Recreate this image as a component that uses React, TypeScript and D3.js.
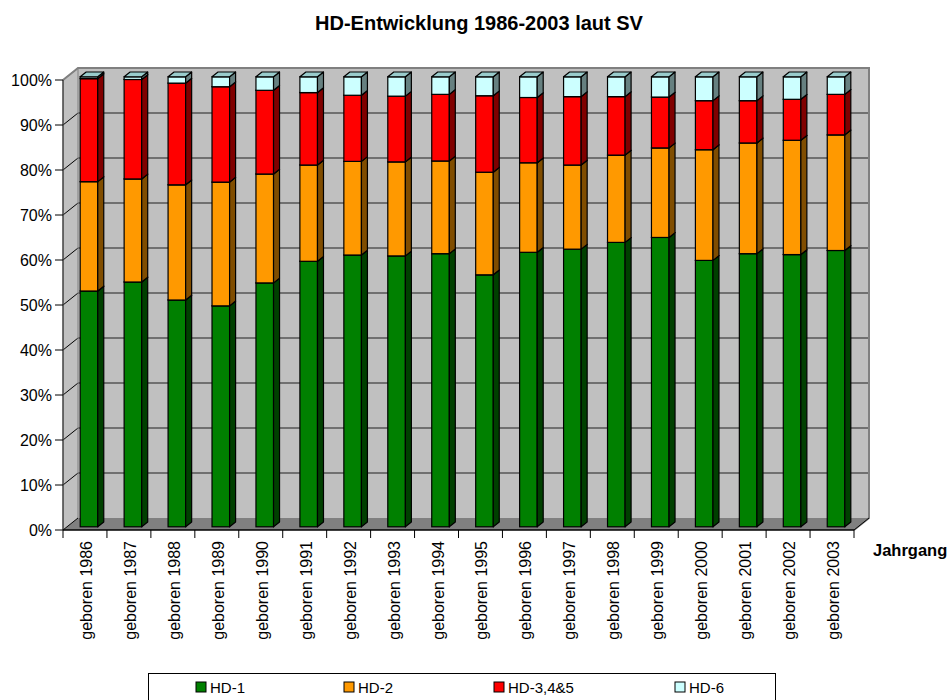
import React, { useEffect, useRef } from "react";
import * as d3 from "d3";

const years = ["1986", "1987", "1988", "1989", "1990", "1991", "1992", "1993", "1994", "1995", "1996", "1997", "1998", "1999", "2000", "2001", "2002", "2003"];
const hd1 = [52.4, 54.4, 50.4, 49.1, 54.2, 59.0, 60.4, 60.2, 60.7, 56.0, 61.0, 61.7, 63.2, 64.3, 59.2, 60.7, 60.5, 61.4];
const hd2 = [24.3, 22.9, 25.6, 27.5, 24.2, 21.4, 20.8, 20.9, 20.6, 22.8, 19.9, 18.7, 19.4, 19.9, 24.6, 24.6, 25.4, 25.7];
const hd345 = [22.9, 22.1, 22.6, 21.2, 18.6, 16.1, 14.7, 14.6, 14.8, 17.0, 14.5, 15.2, 13.0, 11.3, 10.9, 9.4, 9.1, 9.0];
const hd6 = [0.4, 0.6, 1.4, 2.2, 3.0, 3.5, 4.1, 4.3, 3.9, 4.2, 4.6, 4.4, 4.4, 4.5, 5.3, 5.3, 5.0, 3.9];
const seriesNames = ["HD-1", "HD-2", "HD-3,4&5", "HD-6"];
const yTicks = [0, 10, 20, 30, 40, 50, 60, 70, 80, 90, 100];

const colors = [
  { front: "#008000", side: "#004000", top: "#006600" },
  { front: "#FF9900", side: "#804D00", top: "#CC7A00" },
  { front: "#FF0000", side: "#800000", top: "#CC0000" },
  { front: "#CCFFFF", side: "#668080", top: "#99CCCC" },
];

export default function App() {
  const svgRef = useRef<SVGSVGElement>(null);

  useEffect(() => {
    const svg = d3.select(svgRef.current);
    svg.selectAll("*").remove();

    const W = 951, H = 700;
    const left = 63, right = 854, top = 80, bottom = 530;
    const depthX = 15, depthY = 12;
    const font = "Arial, 'Liberation Sans', sans-serif";

    const x = d3.scaleBand().domain(years).range([left, right]);
    const y = d3.scaleLinear().domain([0, 100]).range([bottom, top]);

    // title
    svg.append("text")
      .attr("x", 479).attr("y", 30)
      .attr("text-anchor", "middle")
      .style("font-family", font).style("font-size", "20px").style("font-weight", "bold")
      .text("HD-Entwicklung 1986-2003 laut SV");

    // walls
    const poly = (pts: number[][]) => pts.map(p => p.join(",")).join(" ");
    svg.append("polygon")
      .attr("points", poly([[left, y(100)], [left + depthX, y(100) - depthY], [left + depthX, bottom - depthY], [left, bottom]]))
      .attr("fill", "#C0C0C0");
    svg.append("rect")
      .attr("x", left + depthX).attr("y", y(100) - depthY)
      .attr("width", right - left).attr("height", bottom - top)
      .attr("fill", "#C0C0C0");
    svg.append("polygon")
      .attr("points", poly([[left, bottom], [left + depthX, bottom - depthY], [right + depthX, bottom - depthY], [right, bottom]]))
      .attr("fill", "#808080");

    // gridlines
    yTicks.filter(t => t > 0).forEach(t => {
      svg.append("line")
        .attr("x1", left + depthX).attr("x2", right + depthX)
        .attr("y1", y(t) - depthY).attr("y2", y(t) - depthY)
        .attr("stroke", "#202020").attr("stroke-width", 1.2);
      svg.append("line")
        .attr("x1", left).attr("x2", left + depthX)
        .attr("y1", y(t)).attr("y2", y(t) - depthY)
        .attr("stroke", "#000").attr("stroke-width", 1);
    });

    // wall borders
    svg.append("polyline")
      .attr("points", poly([[left, y(100)], [left + depthX, y(100) - depthY], [right + depthX, y(100) - depthY], [right + depthX, bottom - depthY], [right, bottom]]))
      .attr("fill", "none").attr("stroke", "#808080").attr("stroke-width", 2);
    svg.append("line")
      .attr("x1", left + depthX).attr("x2", left + depthX)
      .attr("y1", y(100) - depthY).attr("y2", bottom - depthY)
      .attr("stroke", "#808080").attr("stroke-width", 1);
    svg.append("line")
      .attr("x1", left).attr("x2", left + depthX)
      .attr("y1", bottom).attr("y2", bottom - depthY)
      .attr("stroke", "#000").attr("stroke-width", 1);
    svg.append("line")
      .attr("x1", right).attr("x2", right + depthX)
      .attr("y1", bottom).attr("y2", bottom - depthY)
      .attr("stroke", "#000").attr("stroke-width", 1);

    // y axis
    svg.append("line")
      .attr("x1", left).attr("x2", left).attr("y1", y(100)).attr("y2", bottom)
      .attr("stroke", "#404040").attr("stroke-width", 1.5);
    yTicks.forEach(t => {
      svg.append("line")
        .attr("x1", left - 8).attr("x2", left).attr("y1", y(t)).attr("y2", y(t))
        .attr("stroke", "#000");
      svg.append("text")
        .attr("x", left - 11).attr("y", y(t) + 5.5)
        .attr("text-anchor", "end")
        .style("font-family", font).style("font-size", "16px")
        .text(t + "%");
    });

    // x axis
    svg.append("line")
      .attr("x1", left).attr("x2", right).attr("y1", bottom).attr("y2", bottom)
      .attr("stroke", "#000").attr("stroke-width", 1.5);
    d3.range(years.length + 1).forEach(i => {
      const tx = left + i * x.step();
      svg.append("line")
        .attr("x1", tx).attr("x2", tx).attr("y1", bottom).attr("y2", bottom + 8)
        .attr("stroke", "#000");
    });
    years.forEach(yr => {
      const cx = x(yr)! + x.bandwidth() / 2 + 7;
      svg.append("text")
        .attr("transform", `translate(${cx},${bottom + 11}) rotate(-90)`)
        .attr("text-anchor", "end")
        .style("font-family", font).style("font-size", "16px")
        .text("geboren " + yr);
    });
    svg.append("text")
      .attr("x", 873).attr("y", 556)
      .style("font-family", font).style("font-size", "16.5px").style("font-weight", "bold")
      .text("Jahrgang");

    // bars
    const series = [hd1, hd2, hd345, hd6];
    const barW = x.bandwidth() * 0.4;
    const fx = 4, fy = 3.2; // bar front offset into depth
    const bdx = 6, bdy = 4.8; // bar depth
    years.forEach((yr, i) => {
      const bx = x(yr)! + x.bandwidth() * 0.3 + fx;
      let acc = 0;
      series.forEach((s, k) => {
        const v0 = acc, v1 = acc + s[i];
        acc = v1;
        const y0 = y(v0) - fy, y1 = y(v1) - fy;
        const c = colors[k];
        svg.append("rect")
          .attr("x", bx).attr("y", y1).attr("width", barW).attr("height", y0 - y1)
          .attr("fill", c.front).attr("stroke", "#000").attr("stroke-width", 1.2);
        svg.append("polygon")
          .attr("points", poly([[bx + barW, y1], [bx + barW + bdx, y1 - bdy], [bx + barW + bdx, y0 - bdy], [bx + barW, y0]]))
          .attr("fill", c.side).attr("stroke", "#000").attr("stroke-width", 1.2).attr("stroke-linejoin", "round");
        svg.append("polygon")
          .attr("points", poly([[bx, y1], [bx + bdx, y1 - bdy], [bx + barW + bdx, y1 - bdy], [bx + barW, y1]]))
          .attr("fill", c.top).attr("stroke", "#000").attr("stroke-width", 1.2).attr("stroke-linejoin", "round");
      });
    });

    // legend
    svg.append("rect")
      .attr("x", 148.5).attr("y", 673.5).attr("width", 627).attr("height", 40)
      .attr("fill", "#fff").attr("stroke", "#000");
    const legendX = [196, 344, 494, 675];
    seriesNames.forEach((name, k) => {
      svg.append("rect")
        .attr("x", legendX[k]).attr("y", 682).attr("width", 10).attr("height", 10)
        .attr("fill", colors[k].front).attr("stroke", "#000");
      svg.append("text")
        .attr("x", legendX[k] + 14).attr("y", 692.5)
        .style("font-family", font).style("font-size", "15px")
        .text(name);
    });

    svg.attr("width", W).attr("height", H);
  }, []);

  return <svg ref={svgRef} style={{ position: "absolute", left: 0, top: 0 }}></svg>;
}
